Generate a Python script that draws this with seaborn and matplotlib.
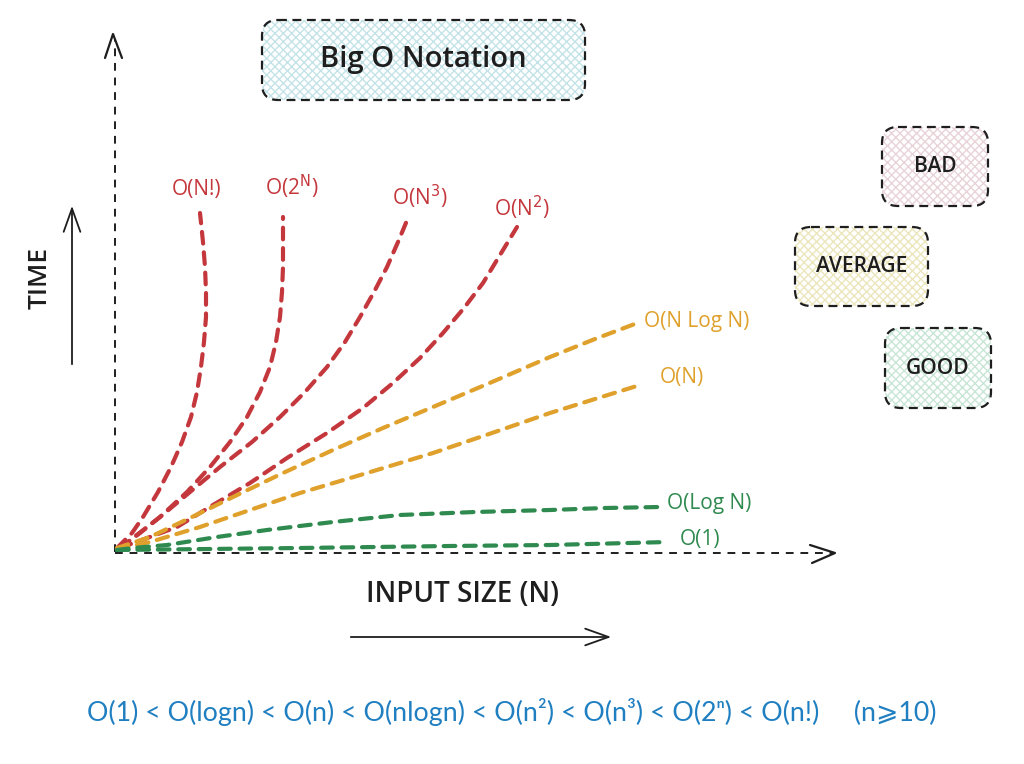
import numpy as np
import pandas as pd
import seaborn as sns
import matplotlib.pyplot as plt
from matplotlib.patches import FancyBboxPatch


# curve points (pixel space, y grows downward)
CURVES = ["O(N!)", "O(2^N)", "O(N^3)", "O(N^2)", "O(N Log N)", "O(N)", "O(Log N)", "O(1)"]
CURVE_X = [
    [117, 132, 143, 158, 171, 182, 191, 197, 201, 204, 206, 206, 205, 203, 200],
    [120, 140, 160, 187, 210, 230, 247, 260, 270, 276, 280, 282, 283, 283, 283],
    [120, 160, 190, 220, 252, 280, 305, 327, 345, 360, 374, 387, 398, 408],
    [120, 177, 213, 250, 287, 327, 363, 393, 420, 443, 464, 483, 500, 517],
    [117, 150, 192, 233, 283, 333, 383, 433, 492, 550, 595, 640],
    [117, 150, 200, 250, 300, 367, 433, 492, 550, 595, 640],
    [117, 133, 167, 217, 267, 333, 400, 475, 550, 605, 660],
    [117, 300, 450, 550, 668],
]
CURVE_Y = [
    [548, 533, 517, 492, 467, 442, 417, 392, 367, 342, 317, 292, 267, 242, 213],
    [548, 533, 517, 492, 467, 442, 417, 392, 367, 342, 317, 292, 267, 242, 217],
    [548, 517, 492, 467, 442, 417, 392, 367, 342, 317, 292, 267, 242, 218],
    [548, 527, 505, 483, 458, 433, 408, 383, 358, 333, 308, 283, 255, 227],
    [548, 537, 517, 497, 473, 450, 428, 407, 382, 357, 339, 322],
    [549, 542, 527, 510, 493, 473, 453, 433, 413, 399, 385],
    [550, 548, 545, 537, 530, 522, 515, 512, 510, 508, 507],
    [550, 548, 546, 545, 542],
]
CURVE_GROUP = ["bad", "bad", "bad", "bad", "avg", "avg", "good", "good"]

LABELS = ["O(N!)", r"O(2$^\mathrm{N}$)", r"O(N$^\mathrm{3}$)", r"O(N$^\mathrm{2}$)",
          "O(N Log N)", "O(N)", "O(Log N)", "O(1)"]
LABEL_X = [197, 292, 420, 522, 644, 660, 667, 680]
LABEL_Y = [189, 187, 197, 208, 321, 378, 503, 540]
LABEL_HA = ["center", "center", "center", "center", "left", "left", "left", "left"]

BOXES = ["Big O Notation", "BAD", "AVERAGE", "GOOD"]
BOX_X0 = [262, 882, 795, 885]
BOX_Y0 = [20, 127, 227, 328]
BOX_X1 = [585, 988, 928, 991]
BOX_Y1 = [100, 206, 306, 408]
BOX_FILL = ["#c4e3e8", "#e8d3d9", "#ece6bd", "#c8e6d6"]
BOX_FONTSIZE = [21, 15, 15, 15]

COLORS = {"bad": "#c4373c", "avg": "#dfa12c", "good": "#2f8a4f"}

ORDER_TEXT = ("O(1) < O(logn) < O(n) < O(nlogn) < O(n²) < O(n³) < O(2ⁿ) < O(n!)"
              "     (n⩾10)")

sns.set_theme(style="white")
plt.rcParams["font.family"] = ["Open Sans", "DejaVu Sans"]

fig = plt.figure(figsize=(10.24, 7.64), dpi=100)
ax = fig.add_axes([0, 0, 1, 1])

ink = "#1e1e1e"

# boxes
for label, x0, y0, x1, y1, fill, fs in zip(BOXES, BOX_X0, BOX_Y0, BOX_X1, BOX_Y1, BOX_FILL, BOX_FONTSIZE):
    hatch = FancyBboxPatch((x0, y0), x1 - x0, y1 - y0, boxstyle="round,pad=0,rounding_size=16",
                           facecolor="white", edgecolor=fill, hatch="xxxx", lw=0)
    ax.add_patch(hatch)
    edge = FancyBboxPatch((x0, y0), x1 - x0, y1 - y0, boxstyle="round,pad=0,rounding_size=16",
                          facecolor="none", edgecolor=ink, lw=1.6, linestyle=(0, (4, 2.5)))
    ax.add_patch(edge)
    ax.text((x0 + x1) / 2, (y0 + y1) / 2, label, ha="center", va="center",
            fontsize=fs, color=ink, fontweight="semibold")

# axes drawn as dashed arrows
ax.plot([115, 115], [552, 40], color=ink, lw=1.4, linestyle=(0, (4, 3.5)))
ax.plot([105, 113, 122], [58, 34, 58], color=ink, lw=1.6)
ax.plot([115, 833], [553, 553], color=ink, lw=1.4, linestyle=(0, (4, 3.5)))
ax.plot([810, 835, 812], [545, 553, 563], color=ink, lw=1.6)

# curves
for name, xs, ys, grp in zip(CURVES, CURVE_X, CURVE_Y, CURVE_GROUP):
    df = pd.DataFrame({"x": xs, "y": ys})
    sns.lineplot(data=df, x="x", y="y", sort=False, estimator=None, ax=ax,
                 color=COLORS[grp], lw=3, linestyle=(0, (2.8, 2.1)),
                 dash_capstyle="round")
ax.set_xlim(0, 1024)
ax.set_ylim(764, 0)
ax.axis("off")

for lab, x, y, ha, grp in zip(LABELS, LABEL_X, LABEL_Y, LABEL_HA, CURVE_GROUP):
    ax.text(x, y, lab, ha=ha, va="center", fontsize=15, color=COLORS[grp])

# axis titles
ax.text(40, 278, "TIME", rotation=90, ha="center", va="center", fontsize=19,
        fontweight="semibold", color=ink)
ax.annotate("", xy=(72, 203), xytext=(72, 367),
            arrowprops=dict(arrowstyle="->,head_length=1.4,head_width=0.5", color=ink, lw=1.3))
ax.text(462, 594, "INPUT SIZE (N)", ha="center", va="center", fontsize=20,
        fontweight="semibold", color=ink)
ax.annotate("", xy=(614, 637), xytext=(348, 637),
            arrowprops=dict(arrowstyle="->,head_length=1.4,head_width=0.5", color=ink, lw=1.3))

ax.text(512, 712, ORDER_TEXT, ha="center", va="center", fontsize=19.3, color="#1f7fc0",
        family=["Lato", "DejaVu Sans"])

fig.savefig("out.png", dpi=100, facecolor="white")
